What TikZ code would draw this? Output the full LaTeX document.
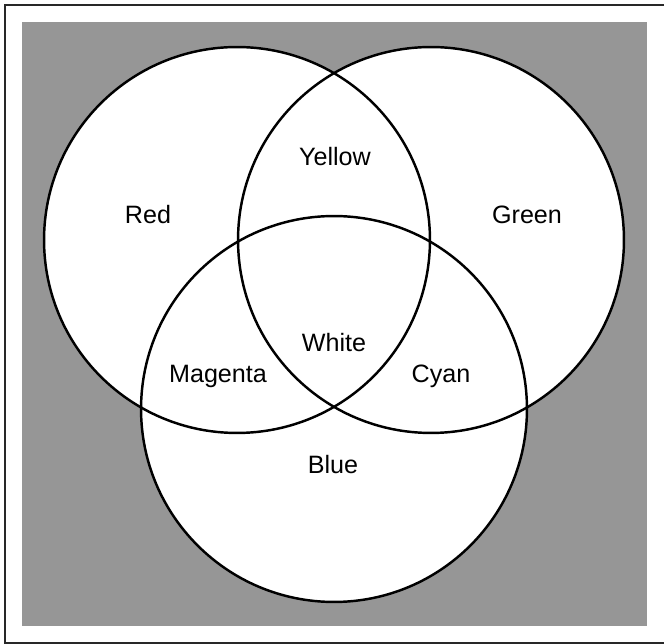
\documentclass[tikz,border=0pt]{standalone}
\usepackage{fontspec}
\setmainfont{Liberation Sans}
\usepackage{xcolor}
\definecolor{BackGray}{RGB}{150,150,150}
\definecolor{FrameGray}{RGB}{40,40,40}
\usepackage{tikz}
\usetikzlibrary{positioning, calc}
\tikzset{
  % Colour circle of the diagram
  colcirc/.style={
    circle, draw=black, line width=1.4pt,
    minimum size=7.72cm, inner sep=0pt
  },
  % Region label
  rlabel/.style={font=\fontsize{14.3}{16}\selectfont, inner sep=0pt},
}

\begin{document}
\begin{tikzpicture}[x=0.02cm, y=-0.02cm]
  \useasboundingbox (0,0) rectangle (665,644);

  %% Frame and textured background
  \draw[FrameGray, line width=1.2pt] (664,5) -- (5,5) -- (5,643) -- (664,643);
  \fill[BackGray] (22,22) rectangle (647,626);

  %% White discs under the outlines
  \foreach \cx/\cy in {237/240, 431/240, 334/409}{
    \fill[white] (\cx,\cy) circle[radius=3.86cm];
  }

  %% Circles
  \node[colcirc] (red)   at (237,240) {};
  \node[colcirc] (green) at (431,240) {};
  \node[colcirc] (blue)  at (334,409) {};

  %% Labels
  \node[rlabel] (lred)     at (148,215) {Red};
  \node[rlabel] (lgreen)   at (527,215) {Green};
  \node[rlabel] (lyellow)  at (335,157) {Yellow};
  \node[rlabel] (lwhite)   at (334,343) {White};
  \node[rlabel] (lmagenta) at (218,376) {Magenta};
  \node[rlabel] (lcyan)    at (441,376) {Cyan};
  \node[rlabel] (lblue)    at (333,465) {Blue};
\end{tikzpicture}
\end{document}
